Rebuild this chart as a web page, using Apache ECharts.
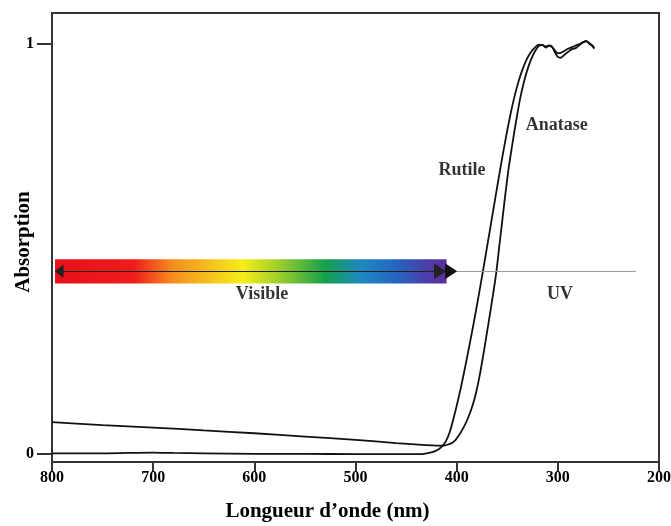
<!DOCTYPE html>
<html>
<head>
<meta charset="utf-8">
<script src="https://cdn.jsdelivr.net/npm/echarts@6/dist/echarts.min.js"></script>
</head>
<body style="margin:0">
<div id="main" style="width:671px;height:526px;"></div>
<script type="text/javascript">
// spectres (longueur d'onde nm, absorption)
var rutileNm  = [800, 750, 700, 680, 650, 600, 550, 500, 450, 436, 430, 424, 419, 415, 411, 407, 403, 399, 395, 391, 387, 383, 379, 375, 371, 367, 363, 359, 355, 351, 347, 343, 339, 335, 331, 327, 323, 319, 315, 312, 309, 306, 303, 300, 297, 294, 290, 286, 282, 278, 275, 272, 269, 266, 264];
var rutileAbs = [0.002, 0.002, 0.004, 0.003, 0.002, 0.001, 0.001, 0.0, 0.0, 0.0, 0.002, 0.005, 0.01, 0.018, 0.03, 0.053, 0.088, 0.128, 0.172, 0.22, 0.27, 0.322, 0.376, 0.432, 0.49, 0.548, 0.607, 0.665, 0.722, 0.776, 0.826, 0.87, 0.907, 0.937, 0.961, 0.978, 0.99, 0.998, 0.997, 0.993, 0.996, 0.994, 0.98, 0.968, 0.966, 0.972, 0.98, 0.987, 0.99, 0.998, 1.003, 1.007, 1.0, 0.995, 0.988];

var anataseNm  = [800, 750, 700, 650, 600, 550, 500, 460, 430, 420, 413, 409, 405, 401, 397, 393, 389, 385, 381, 377, 373, 369, 365, 361, 357, 353, 349, 345, 341, 337, 333, 329, 325, 321, 318, 315, 312, 309, 306, 303, 300, 297, 294, 290, 286, 282, 278, 275, 272, 269, 266, 264];
var anataseAbs = [0.078, 0.071, 0.065, 0.058, 0.051, 0.043, 0.035, 0.027, 0.022, 0.021, 0.021, 0.023, 0.027, 0.035, 0.049, 0.066, 0.087, 0.113, 0.148, 0.195, 0.252, 0.312, 0.374, 0.44, 0.525, 0.61, 0.69, 0.755, 0.815, 0.87, 0.912, 0.945, 0.97, 0.988, 0.996, 0.997, 0.991, 0.995, 0.993, 0.984, 0.977, 0.978, 0.982, 0.988, 0.992, 0.996, 1.0, 1.004, 1.006, 1.002, 0.996, 0.99];

// bande du visible et fleche UV
var visibleBand = [797, 410];
var bandAbs = [0.416, 0.475];
var arrowAbs = 0.446;
var visibleArrow = [793, 416.5];
var uvArrow = [223, 405.5];

// annotations
var noteNames = ['Rutile', 'Anatase', 'Visible', 'UV'];
var noteNm    = [394.7, 301, 592.4, 297.9];
var noteAbs   = [0.692, 0.802, 0.389, 0.389];

var yTicks = [0, 1];

function pairs(xs, ys) {
	var out = [];
	for (var i = 0; i < xs.length; i++) {
		out.push([xs[i], ys[i]]);
	}
	return out;
}

var noteData = [];
for (var i = 0; i < noteNames.length; i++) {
	noteData.push({ name: noteNames[i], value: [noteNm[i], noteAbs[i]] });
}

var font = 'Liberation Serif';
var ink = '#000';

var myChart = echarts.init(document.getElementById('main'));
var option = {
	animation : false,
	backgroundColor : '#fff',
	grid : {
		left : 52,
		right : 12,
		top : 13,
		bottom : 64,
		show : true,
		borderColor : '#333',
		borderWidth : 2,
		outerBoundsMode : 'none'
	},
	xAxis : {
		type : 'value',
		min : 200,
		max : 800,
		interval : 100,
		inverse : true,
		name : 'Longueur d\u2019onde (nm)',
		nameLocation : 'middle',
		nameGap : 39,
		nameMoveOverlap : false,
		nameTextStyle : {
			fontFamily : font,
			fontWeight : 'bold',
			fontSize : 21,
			color : ink,
			padding : [ 0, 56, 0, 0 ]
		},
		axisLine : { onZero : false, lineStyle : { color : '#333', width : 2 } },
		axisTick : { length : 10, lineStyle : { color : '#333', width : 2 } },
		axisLabel : {
			margin : 8,
			fontFamily : font,
			fontWeight : 'bold',
			fontSize : 16,
			color : ink,
			showMinLabel : true,
			showMaxLabel : true
		},
		splitLine : { show : false }
	},
	yAxis : {
		type : 'value',
		min : -0.019,
		max : 1.075,
		name : 'Absorption',
		nameLocation : 'middle',
		nameGap : 18,
		nameMoveOverlap : false,
		nameTextStyle : {
			fontFamily : font,
			fontWeight : 'bold',
			fontSize : 21,
			color : ink,
			padding : [ 0, 9, 0, 0 ]
		},
		axisLine : { onZero : false, lineStyle : { color : '#333', width : 2 } },
		axisTick : { length : 15, customValues : yTicks, lineStyle : { color : '#333', width : 2 } },
		axisLabel : {
			customValues : yTicks,
			margin : 18,
			fontFamily : font,
			fontWeight : 'bold',
			fontSize : 16,
			color : ink
		},
		splitLine : { show : false }
	},
	series : [ {
		name : 'bande',
		type : 'line',
		data : [],
		silent : true,
		markArea : {
			silent : true,
			itemStyle : {
				opacity : 1,
				color : new echarts.graphic.LinearGradient(0, 0, 1, 0, [
					{ offset : 0, color : '#e8101a' },
					{ offset : 0.2, color : '#ee1c1c' },
					{ offset : 0.3, color : '#f68d1f' },
					{ offset : 0.48, color : '#f6ee1a' },
					{ offset : 0.57, color : '#9fcf2a' },
					{ offset : 0.69, color : '#15a04c' },
					{ offset : 0.78, color : '#1f88c0' },
					{ offset : 0.87, color : '#2566c0' },
					{ offset : 0.95, color : '#4d3eaa' },
					{ offset : 1, color : '#5b2d9e' }
				])
			},
			data : [ [ { coord : [ visibleBand[0], bandAbs[1] ] }, { coord : [ visibleBand[1], bandAbs[0] ] } ] ]
		},
		markLine : {
			silent : true,
			label : { show : false },
			emphasis : { disabled : true },
			data : [
				[ { coord : [ visibleArrow[0], arrowAbs ], symbol : 'triangle', symbolSize : [ 13, 9 ],
					lineStyle : { color : '#222', width : 1, type : 'solid' } },
				  { coord : [ visibleArrow[1], arrowAbs ], symbol : 'triangle', symbolSize : [ 16, 12 ] } ],
				[ { coord : [ uvArrow[0], arrowAbs ], symbol : 'none',
					lineStyle : { color : '#9a9a9a', width : 1, type : 'solid' } },
				  { coord : [ uvArrow[1], arrowAbs ], symbol : 'none' } ],
				[ { coord : [ uvArrow[1] + 1, arrowAbs ], symbol : 'none',
					lineStyle : { color : '#111', width : 1, type : 'solid' } },
				  { coord : [ uvArrow[1], arrowAbs ], symbol : 'triangle', symbolSize : [ 16, 12 ] } ]
			]
		}
	}, {
		name : 'Rutile',
		type : 'line',
		data : pairs(rutileNm, rutileAbs),
		showSymbol : false,
		smooth : 0.3,
		lineStyle : { color : '#111', width : 1.8 },
		z : 3
	}, {
		name : 'Anatase',
		type : 'line',
		data : pairs(anataseNm, anataseAbs),
		showSymbol : false,
		smooth : 0.3,
		lineStyle : { color : '#111', width : 1.8 },
		z : 3
	}, {
		name : 'notes',
		type : 'scatter',
		data : noteData,
		symbolSize : 0,
		silent : true,
		label : {
			show : true,
			position : 'inside',
			formatter : '{b}',
			fontFamily : font,
			fontWeight : 'bold',
			fontSize : 18,
			color : ink
		}
	} ]
};
myChart.setOption(option);
</script>
</body>
</html>
